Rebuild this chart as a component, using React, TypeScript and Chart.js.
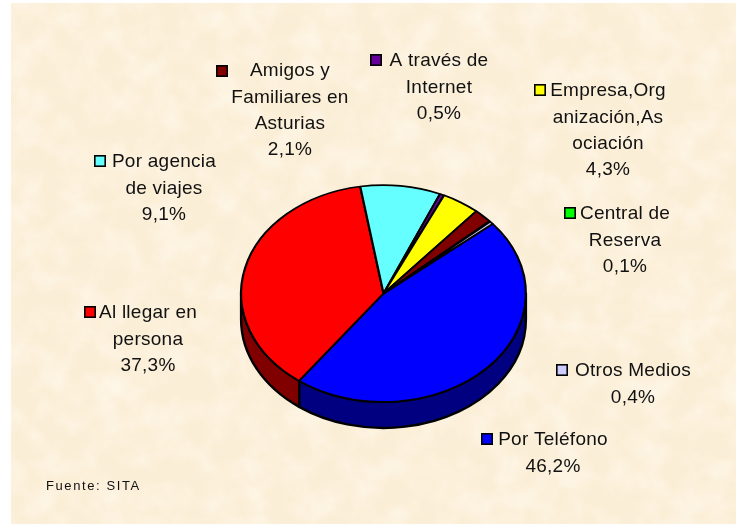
import React, { useEffect, useRef } from "react";
import { Chart, registerables } from "chart.js";

Chart.register(...registerables);

const categories = [
  "Por Teléfono",
  "Al llegar en persona",
  "Por agencia de viajes",
  "A través de Internet",
  "Empresa,Organización,Asociación",
  "Amigos y Familiares en Asturias",
  "Central de Reserva",
  "Otros Medios",
];
const values = [46.2, 37.3, 9.1, 0.5, 4.3, 2.1, 0.1, 0.4];
const percentLabels = ["46,2%", "37,3%", "9,1%", "0,5%", "4,3%", "2,1%", "0,1%", "0,4%"];
const wrappedNames = [
  ["Por Teléfono"],
  ["Al llegar en", "persona"],
  ["Por agencia", "de viajes"],
  ["A través de", "Internet"],
  ["Empresa,Org", "anización,As", "ociación"],
  ["Amigos y", "Familiares en", "Asturias"],
  ["Central de", "Reserva"],
  ["Otros Medios"],
];
const sliceColors = ["#0000FF", "#FF0000", "#66FFFF", "#660099", "#FFFF00", "#800000", "#00FF00", "#CCCCFF"];
const wallColors = ["#000080", "#800000", "#338080", "#33004D", "#808000", "#400000", "#008000", "#666680"];
const sourceNote = "Fuente: SITA";

// Label layout: text centre x, first line centre y, key centre x, key centre y
const labelLayout = [
  [553, 440, 487, 439],
  [148, 313, 90, 312],
  [164, 162, 100, 161],
  [439, 61, 376, 60],
  [608, 91, 540, 90],
  [290, 71, 222, 71],
  [625, 214, 570, 213],
  [633, 371, 562, 370],
];
const LINE_HEIGHT = 26.4;
const SQUASH = 108.5 / 142.5;
const DEPTH = 26;

const noise =
  "data:image/svg+xml," +
  encodeURIComponent(
    `<svg xmlns='http://www.w3.org/2000/svg' width='725' height='521'><filter id='n' x='0' y='0' width='100%' height='100%'><feTurbulence type='fractalNoise' baseFrequency='0.035' numOctaves='4' seed='7'/><feColorMatrix values='0 0 0 0 1  0 0 0 0 0.96  0 0 0 0 0.88  1.2 0 0 0 -0.45'/></filter><rect width='725' height='521' filter='url(#n)'/></svg>`
  );

const pie3d = {
  id: "pie3d",
  beforeDatasetsDraw(chart: any) {
    const ctx = chart.ctx;
    const arcs = chart.getDatasetMeta(0).data;
    const { x: cx, y: cy, outerRadius: r } = arcs[0];
    const ry = r * SQUASH;

    ctx.save();
    ctx.lineWidth = 2.4;
    ctx.strokeStyle = "#000";
    ctx.lineJoin = "round";
    arcs.forEach((arc: any, i: number) => {
      const a = Math.max(arc.startAngle, 0);
      const b = Math.min(arc.endAngle, Math.PI);
      if (b <= a) return;
      ctx.beginPath();
      ctx.ellipse(cx, cy, r, ry, 0, a, b);
      ctx.lineTo(cx + r * Math.cos(b), cy + ry * Math.sin(b) + DEPTH);
      ctx.ellipse(cx, cy + DEPTH, r, ry, 0, b, a, true);
      ctx.closePath();
      ctx.fillStyle = wallColors[i];
      ctx.fill();
      ctx.stroke();
    });
    ctx.restore();

    ctx.save();
    ctx.translate(cx, cy);
    ctx.scale(1, SQUASH);
    ctx.translate(-cx, -cy);
    arcs.forEach((arc: any) => arc.draw(ctx));
    ctx.restore();
    return false;
  },
  afterDraw(chart: any) {
    const ctx = chart.ctx;
    ctx.save();
    ctx.textBaseline = "middle";
    ctx.font = '19px "Liberation Sans"';
    (ctx as any).letterSpacing = "0.25px";
    ctx.textAlign = "center";
    categories.forEach((_, i) => {
      const [tx, ty, kx, ky] = labelLayout[i];
      [...wrappedNames[i], percentLabels[i]].forEach((line, j) => {
        ctx.fillStyle = "#111";
        ctx.fillText(line, tx, ty + j * LINE_HEIGHT);
      });
      ctx.fillStyle = sliceColors[i];
      ctx.strokeStyle = "#000";
      ctx.lineWidth = 1.6;
      ctx.fillRect(kx - 5.2, ky - 5.2, 10.4, 10.4);
      ctx.strokeRect(kx - 5.2, ky - 5.2, 10.4, 10.4);
    });
    ctx.textAlign = "left";
    ctx.fillStyle = "#111";
    ctx.font = '13px "Liberation Sans"';
    (ctx as any).letterSpacing = "1.6px";
    ctx.fillText(sourceNote, 46, 486);
    ctx.restore();
  },
};

export default function App() {
  const ref = useRef<HTMLCanvasElement | null>(null);
  useEffect(() => {
    const chart = new Chart(ref.current as HTMLCanvasElement, {
      type: "pie",
      data: {
        labels: categories,
        datasets: [
          {
            data: values,
            backgroundColor: sliceColors,
            borderColor: "#000",
            borderWidth: 2.2,
          },
        ],
      },
      options: {
        responsive: false,
        animation: false,
        rotation: 50,
        layout: { padding: { left: 240, right: 209, top: 150, bottom: 87 } },
        plugins: { legend: { display: false }, title: { display: false }, tooltip: { enabled: false } },
      },
      plugins: [pie3d],
    } as any);
    return () => chart.destroy();
  }, []);
  return (
    <div style={{ position: "fixed", left: 0, top: 0, width: 736, height: 524, overflow: "hidden", background: "#fff" }}>
      <div
        style={{
          position: "absolute",
          left: 11,
          top: 3,
          width: 725,
          height: 521,
          backgroundColor: "#FBEED6",
          backgroundImage: `url("${noise}")`,
        }}
      />
      <canvas ref={ref} width={736} height={524} style={{ position: "absolute", left: 0, top: 0, display: "block" }} />
    </div>
  );
}
